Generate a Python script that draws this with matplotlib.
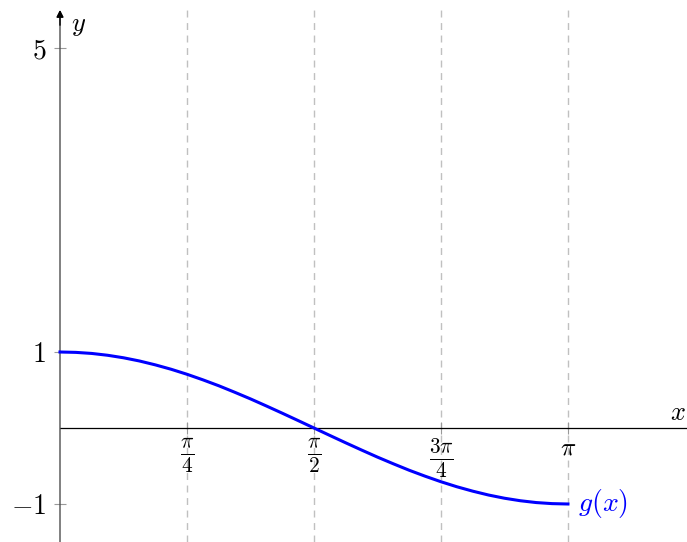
import numpy as np
import matplotlib.pyplot as plt

plt.rcParams['mathtext.fontset'] = 'cm'
plt.rcParams['font.family'] = ['DejaVu Serif']

# g(x) sampled at steps of pi/32 on [0, pi]
x_steps = np.linspace(0, np.pi, 33)
g_vals = [1.000, 0.995, 0.981, 0.957, 0.924, 0.882, 0.831, 0.773, 0.707,
          0.634, 0.556, 0.471, 0.383, 0.290, 0.195, 0.098, 0.000,
          -0.098, -0.195, -0.290, -0.383, -0.471, -0.556, -0.634, -0.707,
          -0.773, -0.831, -0.882, -0.924, -0.957, -0.981, -0.995, -1.000]

x_ticks = [np.pi / 4, np.pi / 2, 3 * np.pi / 4, np.pi]
x_tick_labels = [r'$\frac{\pi}{4}$', r'$\frac{\pi}{2}$', r'$\frac{3\pi}{4}$', r'$\pi$']
y_ticks = [-1, 1, 5]
y_tick_labels = [r'$-1$', r'$1$', r'$5$']

W, H = 687, 542
fig = plt.figure(figsize=(W / 100, H / 100), dpi=100)
ax = fig.add_axes([60 / W, 0, (W - 60) / W, 532 / H])
ax.set_xlim(0, 3.878)
ax.set_ylim(-1.5, 5.5)
for s in ax.spines.values():
    s.set_visible(False)

# x tick marks/labels sit on the y=0 line
ax.xaxis.set_ticks_position('bottom')
ax.spines['bottom'].set_position(('data', 0))

# dashed vertical guides
for xt in x_ticks:
    ax.axvline(xt, color='#c0c0c0', lw=1.0, ls=(0, (5, 4)), zorder=0)

# x axis
ax.axhline(0, color='black', lw=0.9, zorder=2)
# y axis with arrow
ax.annotate('', xy=(0, 5.5), xytext=(0, -1.5), xycoords='data',
            arrowprops=dict(arrowstyle='-|>', color='#4d4d4d', lw=1.0,
                            mutation_scale=10, shrinkA=0, shrinkB=0),
            annotation_clip=False, zorder=3)
ax.annotate('', xy=(0, 5.5), xytext=(0, 5.3), xycoords='data',
            arrowprops=dict(arrowstyle='-|>', color='black', lw=1.0,
                            mutation_scale=10, shrinkA=0, shrinkB=0),
            annotation_clip=False, zorder=3)

ax.plot(x_steps, g_vals, color='#0000ff', lw=2.2, zorder=4, clip_on=False)

ax.set_xticks(x_ticks)
ax.set_xticklabels(x_tick_labels, fontsize=22)
ax.get_xticklabels()[-1].set_fontsize(18)
ax.set_yticks(y_ticks)
ax.set_yticklabels(y_tick_labels, fontsize=20)
ax.tick_params(axis='x', direction='inout', length=8, width=0.8, color='#999999', pad=2)
ax.tick_params(axis='y', direction='inout', length=8, width=0.8, color='#999999', pad=6)

ax.text(0.07, 5.3, r'$y$', fontsize=19, ha='left', va='center')
ax.text(3.82, 0.2, r'$x$', fontsize=19, ha='center', va='center')
ax.text(np.pi + 0.06, -1.0, r'$g(x)$', fontsize=20, color='#0000ff', ha='left', va='center')

fig.savefig('out.png', dpi=100)
